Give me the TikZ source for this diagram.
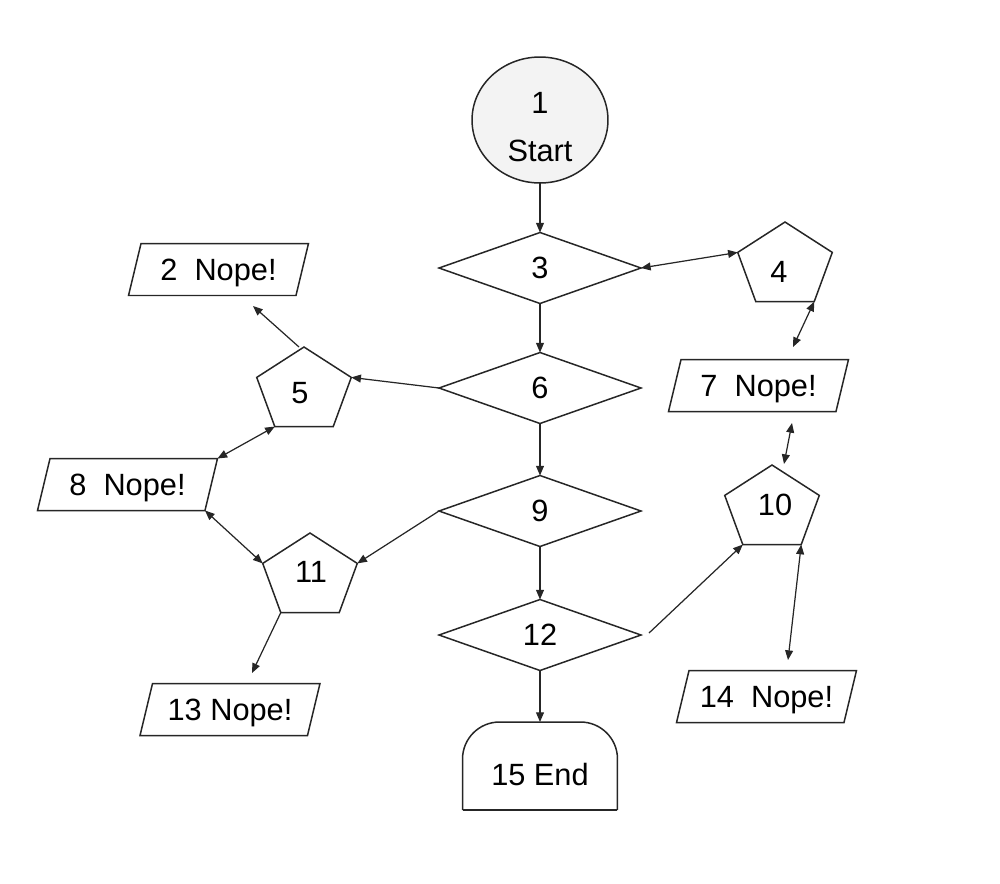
\documentclass[tikz,border=0pt]{standalone}
\usepackage{fontspec}
\setmainfont{Liberation Sans}
\usetikzlibrary{shapes.geometric, arrows.meta}
\definecolor{startgray}{HTML}{F3F3F3}
\definecolor{ink}{HTML}{262626}
\newcommand\pgramoutline[1]{%
  \draw[shapeline] ([xshift=0.25cm]#1.north west) -- (#1.north east)
    -- ([xshift=-0.25cm]#1.south east) -- (#1.south west) -- cycle;}
\begin{document}
\begin{tikzpicture}[x=0.02cm, y=-0.02cm,
  every node/.style={font=\fontsize{17.5pt}{21pt}\selectfont, text=black, inner sep=0pt, outer sep=0pt},
  txt/.style={text height=12.5pt, text depth=0pt},
  shapeline/.style={draw=ink, line width=0.85pt},
  startnode/.style={shapeline, ellipse, fill=startgray, minimum width=2.72cm, minimum height=2.52cm},
  decision/.style={shapeline, diamond, minimum width=4.04cm, minimum height=1.42cm, txt},
  pent/.style={shapeline, regular polygon, regular polygon sides=5, minimum size=1.76cm, xscale=1.13},
  nope/.style={rectangle, minimum width=3.6cm, minimum height=1.04cm, txt},
  conn/.style={draw=ink, line width=0.7pt},
  arr/.style={conn, -{Triangle[length=5.5pt,width=4.5pt]}},
  darr/.style={conn, {Triangle[length=5.5pt,width=4.5pt]}-{Triangle[length=5.5pt,width=4.5pt]}}
]
\useasboundingbox (0,0) rectangle (1000,883);

% start
\node[startnode] (n1) at (540,120) {};
\node[txt] (t1a) at (540,102.5) {1};
\node[txt] (t1b) at (540,151) {Start};

% decisions
\node[decision] (n3) at (540,268) {3};
\node[decision] (n6) at (540,388) {6};
\node[decision] (n9) at (540,511) {9};
\node[decision] (n12) at (540,635) {12};

% pentagons
\node[pent] (p4) at (785,266) {};
\node[txt] (t4) at (779,272) {4};
\node[pent] (p5) at (304,391) {};
\node[txt] (t5) at (300,393) {5};
\node[pent] (p10) at (772,509) {};
\node[txt] (t10) at (775,505) {10};
\node[pent] (p11) at (310,577) {};
\node[txt] (t11) at (311,572) {11};

% outputs (parallelograms)
\node[nope] (n2) at (218.5,269.5) {2\ \ Nope!};
\node[nope] (n8) at (127.5,484.5) {8\ \ Nope!};
\node[nope] (n7) at (758.5,385.5) {7\ \ Nope!};
\node[nope] (n13) at (230,709.5) {13 Nope!};
\node[nope] (n14) at (766.5,696.5) {14\ \ Nope!};
\pgramoutline{n2}
\pgramoutline{n8}
\pgramoutline{n7}
\pgramoutline{n13}
\pgramoutline{n14}

% end
\node[minimum width=3.1cm, minimum height=1.76cm] (n15) at (540,766) {};
\draw[shapeline, rounded corners=0.74cm] (n15.south west) -- (n15.north west) -- (n15.north east) -- (n15.south east);
\draw[shapeline] (n15.south west) -- (n15.south east);
\node[txt] (t15) at (540,775) {15 End};

% free ends
\coordinate (c52) at (253,306);
\coordinate (c1113) at (252,673);
\coordinate (c1210) at (649,633);
\coordinate (c1014) at (788,660);
\coordinate (c710a) at (792,423);
\coordinate (c710b) at (784,464);
\coordinate (c47) at (793,347);

% connectors
\draw[arr] (n1.south) -- (n3.north);
\draw[arr] (n3.south) -- (n6.north);
\draw[arr] (n6.south) -- (n9.north);
\draw[arr] (n9.south) -- (n12.north);
\draw[arr] (n12.south) -- (n15.north);
\draw[darr] (n3.east) -- (p4.corner 2);
\draw[darr] (p4.corner 4) -- (c47);
\draw[arr] (n6.west) -- (p5.corner 5);
\draw[arr] ([xshift=-0.1cm]p5.corner 1) -- (c52);
\draw[darr] (p5.corner 3) -- (n8.north east);
\draw[arr] (n9.west) -- (p11.corner 5);
\draw[darr] ([xshift=-0.25cm]n8.south east) -- (p11.corner 2);
\draw[arr] (p11.corner 3) -- (c1113);
\draw[arr] (c1210) -- (p10.corner 3);
\draw[darr] (p10.corner 4) -- (c1014);
\draw[darr] (c710a) -- (c710b);
\end{tikzpicture}
\end{document}
